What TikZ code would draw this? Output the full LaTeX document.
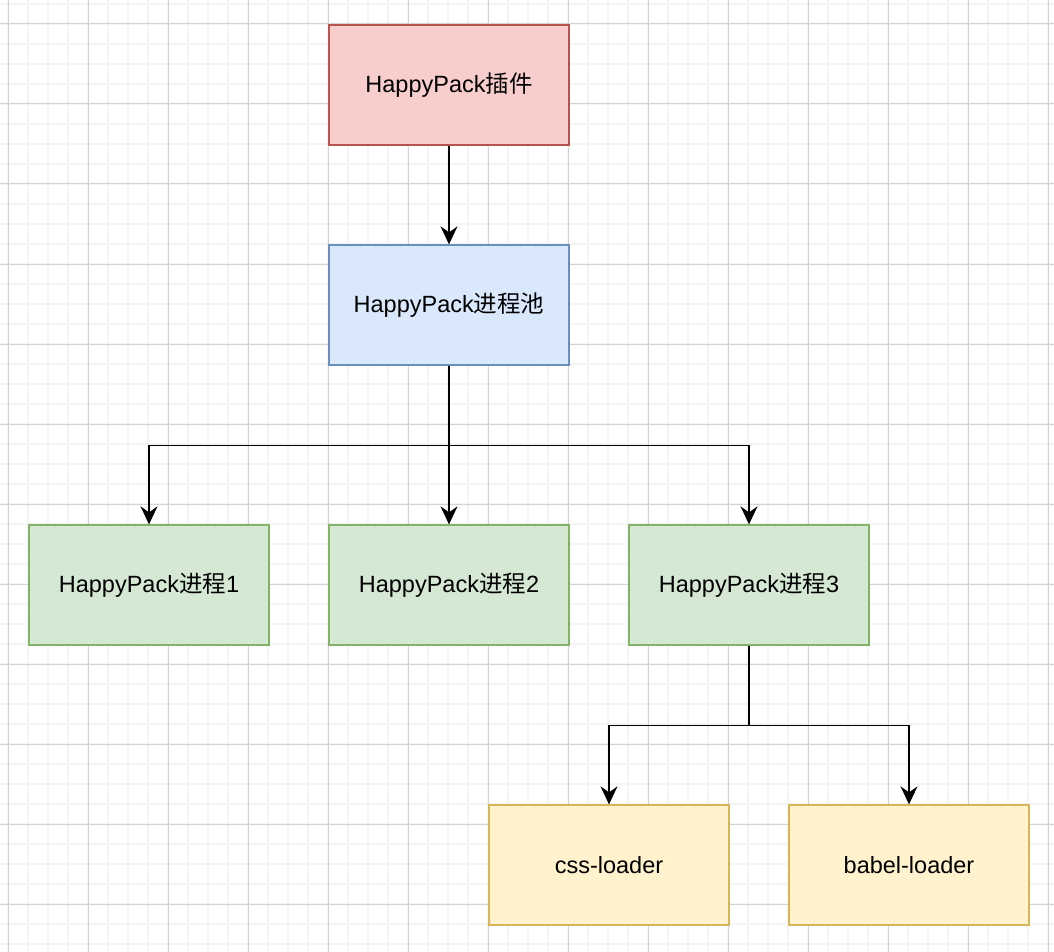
\documentclass[tikz,border=0pt]{standalone}
\usepackage{fontspec}
\setmainfont{Liberation Sans}
\newfontfamily\cjk{Noto Sans CJK SC}
\usetikzlibrary{arrows.meta}
\definecolor{minorgrid}{RGB}{244,244,244}
\definecolor{majorgrid}{RGB}{210,210,210}
\definecolor{redfill}{HTML}{F8CECC}
\definecolor{redline}{HTML}{B85450}
\definecolor{bluefill}{HTML}{DAE8FC}
\definecolor{blueline}{HTML}{6C8EBF}
\definecolor{greenfill}{HTML}{D5E8D4}
\definecolor{greenline}{HTML}{82B366}
\definecolor{yellowfill}{HTML}{FFF2CC}
\definecolor{yellowline}{HTML}{D6B656}

\begin{document}
\begin{tikzpicture}[x=1pt,y=-1pt,
    box/.style={draw,line width=1.3pt,minimum width=240pt,minimum height=120pt,
      inner sep=0pt,font=\fontsize{23.5}{28}\selectfont},
    redbox/.style={box,fill=redfill,draw=redline},
    bluebox/.style={box,fill=bluefill,draw=blueline},
    greenbox/.style={box,fill=greenfill,draw=greenline},
    yellowbox/.style={box,fill=yellowfill,draw=yellowline},
    arr/.style={line width=1.6pt,-{Stealth[length=18pt,width=17pt,inset=6pt]}}]
  \useasboundingbox (0,0) rectangle (1054,952);
  \fill[white] (0,0) rectangle (1054,952);

  % grid
  \foreach \i in {0,1,...,52} {
    \pgfmathsetmacro{\x}{8+\i*20}
    \draw[minorgrid,line width=1.5pt] (\x,0) -- (\x,952);
  }
  \foreach \i in {0,1,...,47} {
    \pgfmathsetmacro{\y}{4+\i*20}
    \draw[minorgrid,line width=1.5pt] (0,\y) -- (1054,\y);
  }
  \foreach \i in {0,1,...,13} {
    \pgfmathsetmacro{\x}{8+\i*80}
    \draw[majorgrid,line width=1pt] (\x,0) -- (\x,952);
  }
  \foreach \i in {0,1,...,11} {
    \pgfmathsetmacro{\y}{24+\i*80}
    \draw[majorgrid,line width=1pt] (0,\y) -- (1054,\y);
  }

  % boxes
  \node[redbox] (plugin) at (449,85) {HappyPack{\cjk 插件}};
  \node[bluebox] (pool) at (449,305) {HappyPack{\cjk 进程池}};
  \node[greenbox] (proc1) at (149,585) {HappyPack{\cjk 进程}1};
  \node[greenbox] (proc2) at (449,585) {HappyPack{\cjk 进程}2};
  \node[greenbox] (proc3) at (749,585) {HappyPack{\cjk 进程}3};
  \node[yellowbox] (css) at (609,865) {css-loader};
  \node[yellowbox] (babel) at (909,865) {babel-loader};

  % arrows
  \draw[arr] (plugin) -- (pool);
  \draw[arr] (pool.south) -- ++(0,80) -| (proc1.north);
  \draw[arr] (pool) -- (proc2);
  \draw[arr] (pool.south) -- ++(0,80) -| (proc3.north);
  \draw[arr] (proc3.south) -- ++(0,80) -| (css.north);
  \draw[arr] (proc3.south) -- ++(0,80) -| (babel.north);
\end{tikzpicture}
\end{document}
